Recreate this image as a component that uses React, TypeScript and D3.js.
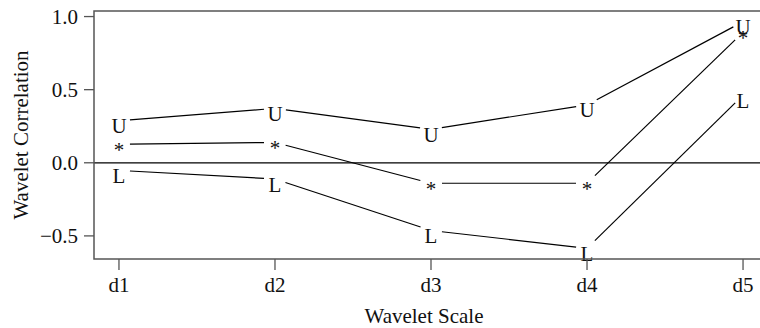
import React from "react";
import * as d3 from "d3";

// wavelet scales on the x axis
const scaleLabels = ["d1", "d2", "d3", "d4", "d5"];

// upper bound (U), estimate (*), lower bound (L)
const upperValues = [0.288, 0.372, 0.229, 0.396, 0.965];
const estimateValues = [0.126, 0.139, -0.14, -0.14, 0.893];
const lowerValues = [-0.052, -0.111, -0.463, -0.585, 0.462];

const yTicks = [-0.5, 0, 0.5, 1.0];
const yTickLabels = ["\u22120.5", "0.0", "0.5", "1.0"];

const series = [
    { symbol: "U", values: upperValues, dy: 12.5 },
    { symbol: "*", values: estimateValues, dy: 13 },
    { symbol: "L", values: lowerValues, dy: 12.5 },
];

const width = 760;
const height = 328;
const box = { left: 94, top: 11, right: 768, bottom: 259 };
const font = "'Liberation Serif', 'DejaVu Serif', serif";
const fontSize = 21;
const gap = 11;
const axisColor = "#555";

export default function App() {
    const x = d3.scaleLinear().domain([0.84, 5.16]).range([box.left, box.right]);
    const y = d3.scaleLinear().domain([-0.658, 1.038]).range([box.bottom, box.top]);

    // type="b" style: segments between points, cut short near each symbol
    const segments = (values: number[]) => {
        const out: { x1: number; y1: number; x2: number; y2: number }[] = [];
        for (let i = 0; i < values.length - 1; i++) {
            const ax = x(i + 1), ay = y(values[i]);
            const bx = x(i + 2), by = y(values[i + 1]);
            const len = Math.hypot(bx - ax, by - ay);
            if (len <= 2 * gap) continue;
            const ux = (bx - ax) / len, uy = (by - ay) / len;
            out.push({ x1: ax + ux * gap, y1: ay + uy * gap, x2: bx - ux * gap, y2: by - uy * gap });
        }
        return out;
    };

    return (
        <svg
            width={width}
            height={height}
            style={{ position: "fixed", left: 0, top: 0, background: "#fff" }}
            fontFamily={font}
            fontSize={fontSize}
        >
            {/* zero reference line */}
            <line x1={box.left} x2={box.right} y1={y(0)} y2={y(0)} stroke="#000" strokeWidth={1.2} />

            {series.map(s => (
                <g key={s.symbol}>
                    {segments(s.values).map((seg, i) => (
                        <line key={i} {...seg} stroke="#000" strokeWidth={1.2} />
                    ))}
                    {s.values.map((v, i) => (
                        <text key={i} x={x(i + 1)} y={y(v) + s.dy} textAnchor="middle" fill="#111">
                            {s.symbol}
                        </text>
                    ))}
                </g>
            ))}

            {/* plot box */}
            <rect
                x={box.left}
                y={box.top}
                width={box.right - box.left}
                height={box.bottom - box.top}
                fill="none"
                stroke={axisColor}
                strokeWidth={1.5}
            />

            {/* y axis */}
            {yTicks.map((t, i) => (
                <g key={t}>
                    <line x1={box.left - 10} x2={box.left} y1={y(t)} y2={y(t)} stroke={axisColor} strokeWidth={1.3} />
                    <text x={78} y={y(t) + 7} textAnchor="end" fill="#111">{yTickLabels[i]}</text>
                </g>
            ))}

            {/* x axis */}
            {scaleLabels.map((lab, i) => (
                <g key={lab}>
                    <line x1={x(i + 1)} x2={x(i + 1)} y1={box.bottom} y2={box.bottom + 11} stroke={axisColor} strokeWidth={1.3} />
                    <text x={x(i + 1)} y={292} textAnchor="middle" fill="#111">{lab}</text>
                </g>
            ))}

            <text x={(box.left + box.right) / 2 - 7} y={323} textAnchor="middle" fill="#111">Wavelet Scale</text>
            <text
                transform={`translate(28,${(box.top + box.bottom) / 2}) rotate(-90)`}
                textAnchor="middle"
                fill="#111"
            >
                Wavelet Correlation
            </text>
        </svg>
    );
}
